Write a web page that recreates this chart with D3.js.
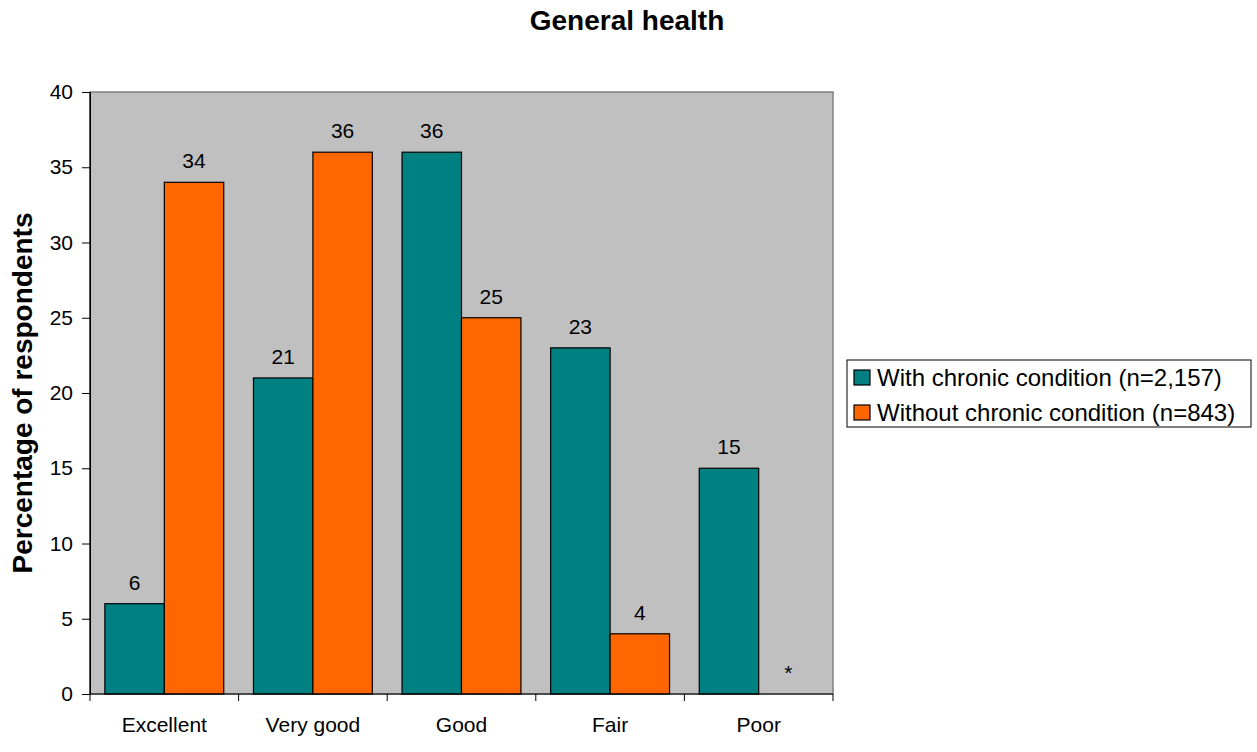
<!DOCTYPE html>
<html>
<head>
<meta charset="utf-8">
<script src="https://cdn.jsdelivr.net/npm/d3@7/dist/d3.min.js"></script>
<style>
  html, body { margin: 0; padding: 0; background: #ffffff; }
  svg { display: block; font-family: "Liberation Sans", Arial, sans-serif; }
</style>
</head>
<body>
<svg id="chart" width="1257" height="752"></svg>
<script>
// Self-rated general health, by chronic condition status
const categories = ["Excellent", "Very good", "Good", "Fair", "Poor"];
const seriesNames = ["With chronic condition (n=2,157)", "Without chronic condition (n=843)"];
const withChronic = [6, 21, 36, 23, 15];
const withoutChronic = [34, 36, 25, 4, null]; // null: estimate suppressed, shown as "*"
const yTicks = [0, 5, 10, 15, 20, 25, 30, 35, 40];
const seriesColors = ["#008080", "#FF6600"];

const svg = d3.select("#chart");
const plot = { left: 90, top: 92, right: 833, bottom: 694 };

const x0 = d3.scaleBand().domain(categories).range([plot.left, plot.right]).padding(0);
const x1 = d3.scaleBand().domain([0, 1]).range([0, x0.bandwidth()])
  .paddingInner(0).paddingOuter(0.25);
const y = d3.scaleLinear().domain([0, 40]).range([plot.bottom, plot.top]);

// plot area background
svg.append("rect")
  .attr("x", plot.left).attr("y", plot.top)
  .attr("width", plot.right - plot.left).attr("height", plot.bottom - plot.top)
  .attr("fill", "#C0C0C0").attr("stroke", "#808080").attr("stroke-width", 1.5);

// title
svg.append("text")
  .attr("x", 627).attr("y", 30)
  .attr("text-anchor", "middle")
  .attr("font-size", 28).attr("font-weight", "bold")
  .text("General health");

// y axis
const yAxis = svg.append("g")
  .attr("transform", `translate(${plot.left},0)`)
  .call(d3.axisLeft(y).tickValues(yTicks).tickSize(8).tickSizeOuter(0).tickPadding(9));
yAxis.selectAll("text").attr("font-size", 21).attr("fill", "#000")
  .attr("font-family", "Liberation Sans, Arial, sans-serif");
yAxis.selectAll("line, path").attr("stroke", "#000").attr("stroke-width", 1);

// y axis title
svg.append("text")
  .attr("transform", `translate(32,${(plot.top + plot.bottom) / 2}) rotate(-90)`)
  .attr("text-anchor", "middle")
  .attr("font-size", 28).attr("font-weight", "bold")
  .text("Percentage of respondents");

// bars
const rows = categories.map((c, i) => ({ cat: c, vals: [withChronic[i], withoutChronic[i]] }));
const groups = svg.append("g").selectAll("g")
  .data(rows).join("g")
  .attr("transform", d => `translate(${x0(d.cat)},0)`);

groups.selectAll("rect")
  .data(d => d.vals.map((v, s) => ({ v, s })).filter(d => d.v != null))
  .join("rect")
  .attr("x", d => x1(d.s))
  .attr("y", d => y(d.v))
  .attr("width", x1.bandwidth())
  .attr("height", d => y(0) - y(d.v))
  .attr("fill", d => seriesColors[d.s])
  .attr("stroke", "#000").attr("stroke-width", 1.2);

groups.selectAll("text")
  .data(d => d.vals.map((v, s) => ({ v, s })))
  .join("text")
  .attr("x", d => x1(d.s) + x1.bandwidth() / 2)
  .attr("y", d => y(d.v == null ? 0 : d.v) - 14)
  .attr("text-anchor", "middle")
  .attr("font-size", 21)
  .text(d => d.v == null ? "*" : d.v);

// x axis line, boundary ticks and category labels
const xg = svg.append("g");
xg.append("line")
  .attr("x1", plot.left).attr("x2", plot.right)
  .attr("y1", plot.bottom).attr("y2", plot.bottom)
  .attr("stroke", "#000");
const bounds = categories.map(c => x0(c)).concat([plot.right]);
xg.selectAll("line.tick").data(bounds).join("line").attr("class", "tick")
  .attr("x1", d => d).attr("x2", d => d)
  .attr("y1", plot.bottom).attr("y2", plot.bottom + 7)
  .attr("stroke", "#000");
xg.selectAll("text").data(categories).join("text")
  .attr("x", d => x0(d) + x0.bandwidth() / 2)
  .attr("y", 732)
  .attr("text-anchor", "middle")
  .attr("font-size", 21)
  .text(d => d);

// left axis line drawn over the plot frame
svg.append("line")
  .attr("x1", plot.left).attr("x2", plot.left)
  .attr("y1", plot.top).attr("y2", plot.bottom)
  .attr("stroke", "#000");

// legend
const legend = svg.append("g").attr("transform", "translate(847,360)");
legend.append("rect")
  .attr("width", 404).attr("height", 67)
  .attr("fill", "#fff").attr("stroke", "#000").attr("stroke-width", 1);
const items = legend.selectAll("g").data(seriesNames).join("g")
  .attr("transform", (d, i) => `translate(0,${10 + i * 35})`);
items.append("rect")
  .attr("x", 7).attr("y", 0).attr("width", 16).attr("height", 15)
  .attr("fill", (d, i) => seriesColors[i]).attr("stroke", "#000").attr("stroke-width", 1.2);
items.append("text")
  .attr("x", 30).attr("y", 16)
  .attr("font-size", 24)
  .text(d => d);
</script>
</body>
</html>
